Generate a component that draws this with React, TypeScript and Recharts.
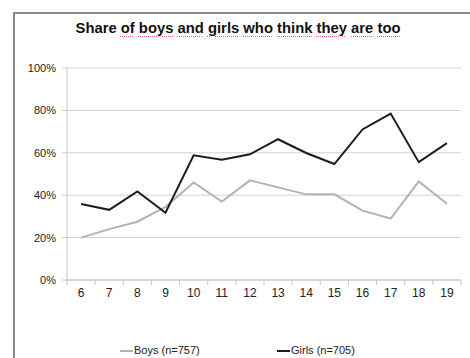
import { LineChart, Line, XAxis, YAxis, CartesianGrid } from "recharts";

// ages on the x axis
const ages = [6, 7, 8, 9, 10, 11, 12, 13, 14, 15, 16, 17, 18, 19];

// share who think they are too ... (fraction of respondents)
const boys = [0.2, 0.24, 0.275, 0.345, 0.46, 0.37, 0.47, 0.437, 0.404, 0.404, 0.327, 0.29, 0.465, 0.36];
const girls = [0.358, 0.331, 0.418, 0.317, 0.588, 0.567, 0.593, 0.664, 0.599, 0.547, 0.71, 0.785, 0.556, 0.646];

const yTicks = [0, 0.2, 0.4, 0.6, 0.8, 1];

const seriesNames = { boys: "Boys (n=757)", girls: "Girls (n=705)" };
const titleWords = ["Share", "of", "boys", "and", "girls", "who", "think", "they", "are", "too"];

const data = ages.map((age, i) => ({ age, boys: boys[i], girls: girls[i] }));

const W = 470;
const H = 358;
const M = { top: 68, right: 9, bottom: 48, left: 0 };
const Y_AXIS_W = 67;
const HALF_STEP = (W - Y_AXIS_W - M.right) / ages.length / 2;

const FONT = "'Liberation Sans', Arial, sans-serif";
const BOYS_COLOR = "#b3b3b3";
const GIRLS_COLOR = "#1c1c1c";

// Excel-style category axis: labels at the centre, tick marks on the boundaries
const AgeTick = (props: any) => {
  const { x, y, payload, index } = props;
  const axisY = y - 9;
  const last = index === ages.length - 1;
  return (
    <g>
      <line x1={x - HALF_STEP} x2={x - HALF_STEP} y1={axisY} y2={axisY + 5} stroke="#c6c6c6" />
      {last && <line x1={x + HALF_STEP} x2={x + HALF_STEP} y1={axisY} y2={axisY + 5} stroke="#c6c6c6" />}
      <text x={x} y={y + 8} textAnchor="middle" fontSize={12} fontFamily={FONT} fill="#222">
        {payload.value}
      </text>
    </g>
  );
};

export default function App() {
  return (
    <div style={{ position: "absolute", left: 0, top: 0, width: W, height: H, overflow: "hidden", background: "#fff" }}>
      <div
        style={{
          position: "absolute",
          left: 13,
          top: 12,
          width: W,
          height: H,
          borderLeft: "2px solid #8c8c8c",
          borderTop: "2px solid #8c8c8c",
        }}
      />
      <div
        style={{
          position: "absolute",
          left: 0,
          top: 20,
          width: 476,
          textAlign: "center",
          fontFamily: FONT,
          fontWeight: "bold",
          fontSize: 14.8,
          color: "#111",
        }}
      >
        {titleWords.map((w, i) => (
          <span key={i}>
            <span
              style={
                i > 0
                  ? { textDecoration: "underline dotted #e07070", textDecorationThickness: 1, textUnderlineOffset: 3 }
                  : undefined
              }
            >
              {w}
            </span>
            {i < titleWords.length - 1 ? " " : ""}
          </span>
        ))}
      </div>
      <LineChart width={W} height={H} data={data} margin={M} style={{ position: "absolute", left: 0, top: 0 }}>
        <CartesianGrid vertical={false} stroke="#d2d2d2" />
        <XAxis
          dataKey="age"
          type="number"
          domain={[5.5, 19.5]}
          ticks={ages}
          interval={0}
          tickLine={false}
          tickSize={5}
          tickMargin={4}
          stroke="#c6c6c6"
          tick={<AgeTick />}
        />
        <YAxis
          width={Y_AXIS_W}
          domain={[0, 1]}
          ticks={yTicks}
          tickFormatter={(v) => `${Math.round(v * 100)}%`}
          tickSize={5}
          tickMargin={6}
          stroke="#c6c6c6"
          tick={{ fontSize: 11, fontFamily: FONT, fill: "#222" }}
        />
        <Line dataKey="boys" stroke={BOYS_COLOR} strokeWidth={2} dot={false} isAnimationActive={false} />
        <Line dataKey="girls" stroke={GIRLS_COLOR} strokeWidth={2} dot={false} isAnimationActive={false} />
      </LineChart>
      {[
        { name: seriesNames.boys, color: BOYS_COLOR, left: 120 },
        { name: seriesNames.girls, color: GIRLS_COLOR, left: 277 },
      ].map((s) => (
        <div
          key={s.name}
          style={{
            position: "absolute",
            left: s.left,
            top: 344,
            display: "flex",
            alignItems: "center",
            fontFamily: FONT,
            fontSize: 11,
            lineHeight: "13px",
            color: "#222",
            whiteSpace: "nowrap",
          }}
        >
          <span style={{ display: "inline-block", width: 13, height: 2, background: s.color, marginRight: 1 }} />
          {s.name}
        </div>
      ))}
    </div>
  );
}
